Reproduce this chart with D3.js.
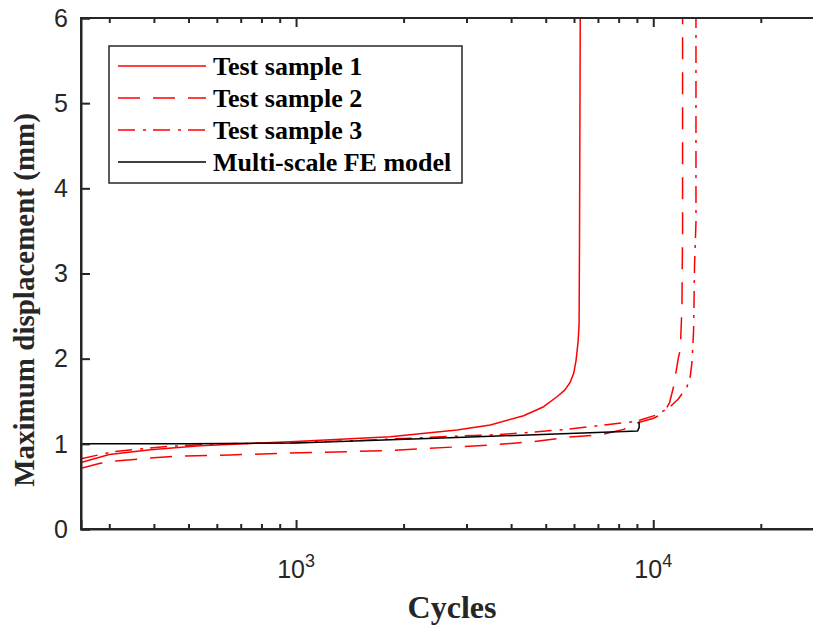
<!DOCTYPE html>
<html><head><meta charset="utf-8">
<script src="https://cdn.jsdelivr.net/npm/d3@7"></script>
<style>body{margin:0;background:#fff}svg{display:block}</style>
</head><body><svg id="c" width="813" height="631"></svg>
<script>
// ---- data ----
const seriesNames = ["Test sample 1", "Test sample 2", "Test sample 3", "Multi-scale FE model"];
const sample1X = [250, 300, 391, 539, 963, 1835, 2821, 3498, 4335, 4933, 5376, 5650, 5850, 5990, 6080, 6160, 6200, 6218, 6246, 6250];
const sample1Y = [0.78, 0.875, 0.93, 0.978, 1.025, 1.084, 1.162, 1.221, 1.33, 1.436, 1.553, 1.63, 1.72, 1.83, 1.98, 2.2, 2.4, 3.5, 6.0, 6.5];
const sample2X = [250, 283, 312, 382, 474, 654, 903, 1800, 3498, 4623, 5734, 7105, 8259, 9095, 10020, 10690, 11100, 11400, 11770, 11900, 12030, 12080, 12080];
const sample2Y = [0.713, 0.771, 0.798, 0.83, 0.857, 0.869, 0.889, 0.92, 0.986, 1.025, 1.077, 1.104, 1.17, 1.25, 1.30, 1.36, 1.48, 1.67, 2.02, 2.10, 2.6, 3.5, 6.5];
const sample3X = [250, 308, 426, 587, 1000, 1500, 2821, 3730, 5376, 5734, 8811, 9196, 10240, 11160, 11770, 12430, 12690, 12830, 12970, 13050, 13170, 13170];
const sample3Y = [0.825, 0.908, 0.966, 0.998, 1.015, 1.04, 1.09, 1.11, 1.16, 1.17, 1.26, 1.28, 1.34, 1.436, 1.53, 1.67, 1.79, 1.95, 2.33, 3.1, 3.6, 6.5];
const modelX = [250, 500, 1000, 2946, 9040, 9130, 9130];
const modelY = [1.0, 1.0, 1.01, 1.077, 1.152, 1.19, 1.26];
const xMajorTicks = [1000, 10000];
const xMajorLabels = [["10", "3"], ["10", "4"]];
const xMinorTicks = [300, 400, 500, 600, 700, 800, 900, 2000, 3000, 4000, 5000, 6000, 7000, 8000, 9000, 20000];
const yTicks = [0, 1, 2, 3, 4, 5, 6];
const xDomain = [250, 30000];
const yDomain = [0, 6];

// ---- layout ----
const L = 81, T = 18, B = 529;
const R = L + 357.2 * Math.log10(xDomain[1] / xDomain[0]);
const axisColor = "#262626";
const svg = d3.select("#c");
const x = d3.scaleLog().domain(xDomain).range([L, R]);
const y = d3.scaleLinear().domain(yDomain).range([B, T]);

svg.append("defs").append("clipPath").attr("id", "clip")
  .append("rect").attr("x", L).attr("y", T).attr("width", R - L).attr("height", B - T);

const series = [
  {xs: sample1X, ys: sample1Y, color: "#ff0000", dash: null},
  {xs: sample2X, ys: sample2Y, color: "#ff0000", dash: "22,13"},
  {xs: sample3X, ys: sample3Y, color: "#ff0000", dash: "17,8,3,7"},
  {xs: modelX, ys: modelY, color: "#000000", dash: null}
];
const line = d3.line().x(d => x(d[0])).y(d => y(d[1]));
const g = svg.append("g").attr("clip-path", "url(#clip)");
series.forEach(s => {
  g.append("path").datum(s.xs.map((v, i) => [v, s.ys[i]]))
    .attr("d", line).attr("fill", "none").attr("stroke", s.color)
    .attr("stroke-width", 1.5).attr("stroke-dasharray", s.dash)
    .attr("stroke-linejoin", "round");
});

// ---- axes ----
const fmt = () => "";
const axB = svg.append("g").attr("transform", `translate(0,${B})`)
  .call(d3.axisTop(x).tickValues(xMajorTicks).tickSize(9).tickFormat(fmt));
const axBm = svg.append("g").attr("transform", `translate(0,${B})`)
  .call(d3.axisTop(x).tickValues(xMinorTicks).tickSize(5).tickFormat(fmt));
const axT = svg.append("g").attr("transform", `translate(0,${T})`)
  .call(d3.axisBottom(x).tickValues(xMajorTicks).tickSize(9).tickFormat(fmt));
const axTm = svg.append("g").attr("transform", `translate(0,${T})`)
  .call(d3.axisBottom(x).tickValues(xMinorTicks).tickSize(5).tickFormat(fmt));
const axL = svg.append("g").attr("transform", `translate(${L},0)`)
  .call(d3.axisRight(y).tickValues(yTicks).tickSize(9).tickFormat(fmt));
const axR = svg.append("g").attr("transform", `translate(${R},0)`)
  .call(d3.axisLeft(y).tickValues(yTicks).tickSize(9).tickFormat(fmt));
[axB, axBm, axT, axTm, axL, axR].forEach(a => {
  a.selectAll("path.domain").attr("stroke", axisColor).attr("stroke-width", 2);
  a.selectAll(".tick line").attr("stroke", axisColor).attr("stroke-width", 2);
});
[axT, axTm, axR, axBm].forEach(a => a.select("path.domain").remove());
svg.append("rect").attr("x", L).attr("y", T).attr("width", R - L).attr("height", B - T)
  .attr("fill", "none").attr("stroke", axisColor).attr("stroke-width", 2);

// tick labels
svg.append("g").selectAll("text").data(yTicks).join("text")
  .attr("x", 68).attr("y", d => y(d)).attr("dy", "0.35em")
  .attr("text-anchor", "end").attr("font-family", "Liberation Sans, Arial, sans-serif")
  .attr("font-size", 25).attr("fill", axisColor).text(d => d);
const xl = svg.append("g").selectAll("text").data(xMajorTicks).join("text")
  .attr("x", d => x(d)).attr("y", 578).attr("text-anchor", "middle")
  .attr("font-family", "Liberation Sans, Arial, sans-serif").attr("font-size", 25).attr("fill", axisColor);
xl.append("tspan").text((d, i) => xMajorLabels[i][0]);
xl.append("tspan").attr("dy", -11).attr("font-size", 18).text((d, i) => xMajorLabels[i][1]);

// axis titles
svg.append("text").attr("x", 452).attr("y", 618).attr("text-anchor", "middle")
  .attr("font-family", "Liberation Serif, Times New Roman, serif").attr("font-weight", "bold")
  .attr("font-size", 32).attr("fill", axisColor).text("Cycles");
svg.append("text").attr("transform", "translate(34,300) rotate(-90)").attr("text-anchor", "middle")
  .attr("font-family", "Liberation Serif, Times New Roman, serif").attr("font-weight", "bold")
  .attr("font-size", 29).attr("fill", axisColor).text("Maximum displacement (mm)");

// ---- legend ----
const lg = svg.append("g");
lg.append("rect").attr("x", 109).attr("y", 46).attr("width", 353).attr("height", 137)
  .attr("fill", "#fff").attr("stroke", axisColor).attr("stroke-width", 1.5);
series.forEach((s, i) => {
  const yy = 66 + i * 32;
  lg.append("line").attr("x1", 118).attr("x2", 206).attr("y1", yy).attr("y2", yy)
    .attr("stroke", s.color).attr("stroke-width", 1.5).attr("stroke-dasharray", s.dash);
  lg.append("text").attr("x", 213).attr("y", yy + 9)
    .attr("font-family", "Liberation Serif, Times New Roman, serif").attr("font-weight", "bold")
    .attr("font-size", 26).attr("fill", "#000").text(seriesNames[i]);
});
</script></body></html>
